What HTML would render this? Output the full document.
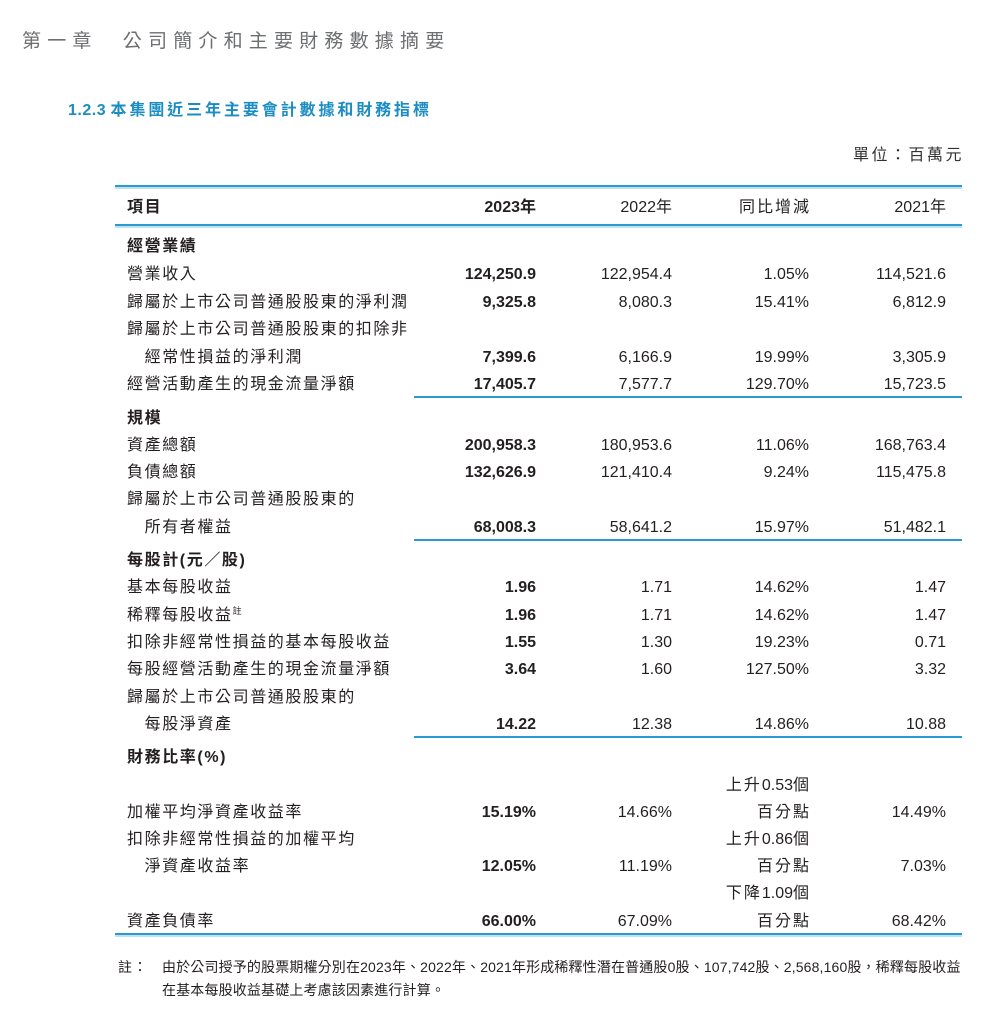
<!DOCTYPE html>
<html><head><meta charset="utf-8">
<style>
*{margin:0;padding:0;box-sizing:border-box}
body{width:993px;height:1035px;background:#fff;position:relative;overflow:hidden;font-family:"Liberation Sans","Noto Sans CJK TC",sans-serif;color:#231f20}
.a{position:absolute;white-space:nowrap;line-height:20px;height:20px;font-size:16px}
.l{letter-spacing:1.6px}
.r{text-align:right}
.b{font-weight:bold}
.ln{position:absolute;height:2px;background:#2c9ad0}
.lt{position:absolute;height:2px;background:#bfe2f2}
</style></head><body>
<div class="a" style="left:22px;top:32px;font-size:19px;color:#6d6e70;letter-spacing:6.2px">第一章　公司簡介和主要財務數據摘要</div>
<div class="a b" style="left:68px;top:101px;font-size:16px;color:#1b8dc2"><span style="letter-spacing:0.5px">1.2.3</span> <span style="letter-spacing:2.9px">本集團近三年主要會計數據和財務指標</span></div>
<div class="a" style="left:853px;top:146px;font-size:16px;color:#333;letter-spacing:2.5px">單位：百萬元</div>

<div class="ln" style="left:115px;top:185px;width:847px"></div>
<div class="lt" style="left:115px;top:187px;width:847px"></div>
<div class="ln" style="left:115px;top:224px;width:847px"></div>
<div class="lt" style="left:115px;top:226px;width:847px"></div>

<div class="ln" style="left:414px;top:396px;width:548px;height:1.5px"></div>
<div class="ln" style="left:414px;top:539px;width:548px;height:1.5px"></div>
<div class="ln" style="left:414px;top:736px;width:548px;height:1.5px"></div>
<div class="ln" style="left:115px;top:933px;width:847px"></div>
<div class="lt" style="left:115px;top:935px;width:847px"></div>

<div id="t"></div>
<div class="a" style="left:118px;top:957px;font-size:14px;letter-spacing:1px">註：</div>
<div class="a" style="left:162px;top:957px;font-size:14px;letter-spacing:0.15px">由於公司授予的股票期權分別在2023年、2022年、2021年形成稀釋性潛在普通股0股、107,742股、2,568,160股，稀釋每股收益</div>
<div class="a" style="left:162px;top:980px;font-size:14px;letter-spacing:0.15px">在基本每股收益基礎上考慮該因素進行計算。</div>

<script>
var rows=[
[208,"項目",1,"2023年","2022年","同比增減","2021年",1],
[247,"經營業績",1],
[275,"營業收入",0,"124,250.9","122,954.4","1.05%","114,521.6"],
[303,"歸屬於上市公司普通股股東的淨利潤",0,"9,325.8","8,080.3","15.41%","6,812.9"],
[330,"歸屬於上市公司普通股股東的扣除非",0],
[358,"　經常性損益的淨利潤",0,"7,399.6","6,166.9","19.99%","3,305.9"],
[385,"經營活動產生的現金流量淨額",0,"17,405.7","7,577.7","129.70%","15,723.5"],
[419,"規模",1],
[446,"資產總額",0,"200,958.3","180,953.6","11.06%","168,763.4"],
[473,"負債總額",0,"132,626.9","121,410.4","9.24%","115,475.8"],
[500,"歸屬於上市公司普通股股東的",0],
[528,"　所有者權益",0,"68,008.3","58,641.2","15.97%","51,482.1"],
[561,"每股計(元／股)",1],
[588,"基本每股收益",0,"1.96","1.71","14.62%","1.47"],
[616,"稀釋每股收益<span style='font-size:9px;position:relative;top:-6px'>註</span>",0,"1.96","1.71","14.62%","1.47"],
[643,"扣除非經常性損益的基本每股收益",0,"1.55","1.30","19.23%","0.71"],
[670,"每股經營活動產生的現金流量淨額",0,"3.64","1.60","127.50%","3.32"],
[698,"歸屬於上市公司普通股股東的",0],
[725,"　每股淨資產",0,"14.22","12.38","14.86%","10.88"],
[758,"財務比率(%)",1],
[786,"",0,"","","上升<span style='letter-spacing:0'>0.53</span>個",""],
[813,"加權平均淨資產收益率",0,"15.19%","14.66%","百分點","14.49%"],
[840,"扣除非經常性損益的加權平均",0,"","","上升<span style='letter-spacing:0'>0.86</span>個",""],
[867,"　淨資產收益率",0,"12.05%","11.19%","百分點","7.03%"],
[894,"",0,"","","下降<span style='letter-spacing:0'>1.09</span>個",""],
[922,"資產負債率",0,"66.00%","67.09%","百分點","68.42%"]
];
var R=[536,672,809,946],h="";
rows.forEach(function(r){
 var y=r[0]-10;
 h+='<div class="a l'+(r[2]?' b':'')+'" style="left:127px;top:'+y+'px">'+r[1]+'</div>';
 for(var i=0;i<4;i++){var v=r[3+i];if(!v)continue;
  var bold=(i==0);
  var cj=/^[\u4e00-\u9fff]/.test(v);
  var ls=cj?'letter-spacing:2px;':'';
  h+='<div class="a r'+(bold?' b':'')+'" style="'+ls+'right:'+(993-R[i]-(cj?2:0))+'px;top:'+y+'px">'+v+'</div>';}
});
document.getElementById('t').innerHTML=h;
</script>
</body></html>
